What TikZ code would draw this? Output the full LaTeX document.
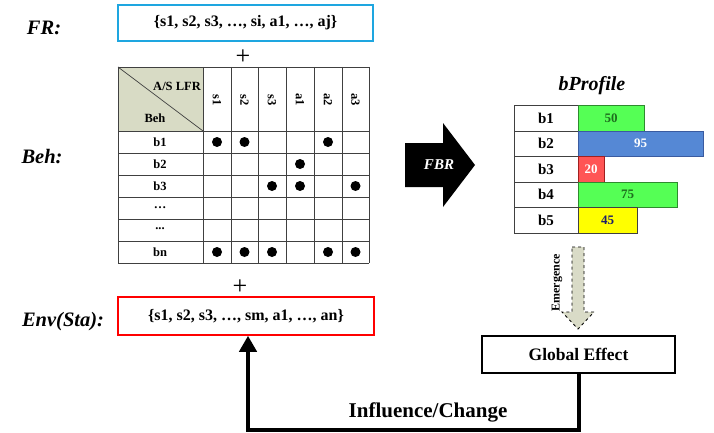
\documentclass[tikz,border=0pt]{standalone}
\usepackage{fontspec}
\setmainfont{Liberation Serif}
\usetikzlibrary{arrows.meta,calc}
\definecolor{frblue}{HTML}{1EA6E0}
\definecolor{hdrfill}{HTML}{D8DBC5}
\definecolor{bargreen}{HTML}{55FF55}
\definecolor{bargreenline}{HTML}{2E8B2E}
\definecolor{bargreentext}{HTML}{1E6E1E}
\definecolor{barblue}{HTML}{5588D5}
\definecolor{barblueline}{HTML}{3A5BA0}
\definecolor{barred}{HTML}{FF5555}
\definecolor{barredline}{HTML}{A02020}
\definecolor{baryellow}{HTML}{FFFF00}
\definecolor{navytext}{HTML}{1C1C6C}
\definecolor{gridgray}{HTML}{404040}
\definecolor{emfill}{HTML}{D9DBC7}
\begin{document}
\begin{tikzpicture}[x=1pt,y=-1pt,
  setbox/.style={draw,line width=1.5pt,minimum width=255pt,minimum height=36pt,inner sep=0pt,
    font=\fontsize{16}{18}\selectfont\bfseries},
  sidelabel/.style={font=\fontsize{20.5}{22}\selectfont\bfseries\itshape,inner sep=0pt},
  plussign/.style={font=\fontsize{26}{26}\selectfont,inner sep=0pt},
  cell/.style={font=\fontsize{12.5}{13}\selectfont\bfseries,inner sep=0pt},
  dot/.style={circle,fill=black,minimum size=10pt,inner sep=0pt},
  bar/.style={draw,line width=0.8pt},
  barval/.style={font=\fontsize{13}{14}\selectfont\bfseries,inner sep=0pt}]
\useasboundingbox (0,0) rectangle (714,433);

% ---- functional requirements ----
\node[sidelabel] (frlbl) at (44,28) {FR:};
\node[setbox,draw=frblue] (fr) at (245.5,23) {\{s1, s2, s3, …, si, a1, …, aj\}};
\node[plussign] (plus1) at (243,57) {+};

% ---- behaviour matrix ----
\node[sidelabel] (behlbl) at (42,157) {Beh:};
\fill[hdrfill] (118,67) rectangle (203,131);
\draw[gridgray,line width=0.7pt] (118,67) -- (203,131);
\foreach \x in {118,203,231,258,286,314,342,369}
  \draw[gridgray,line width=0.9pt] (\x,67) -- (\x,263);
\foreach \y in {67,131,153,175,197,219,241,263}
  \draw[gridgray,line width=0.9pt] (118,\y) -- (369,\y);
\node[cell,anchor=east] (hdrtop) at (201,86) {A/S LFR};
\node[cell] (hdrbot) at (155,118) {Beh};
\foreach \c/\x in {s1/217,s2/244.5,s3/272,a1/300,a2/328,a3/355.5}
  \node[cell,rotate=-90] (col-\c) at (\x,100) {\c};
\node[cell] (row1) at (160,142) {b1};
\node[cell] (row2) at (160,164) {b2};
\node[cell] (row3) at (160,186) {b3};
\node[cell] (row4) at (160,208) {…};
\node[cell] (row5) at (160,229) {...};
\node[cell] (row6) at (160,252) {bn};
\foreach \r/\x/\y in {1/217/142,2/244.5/142,3/328/142,
                      4/300/164,
                      5/272/186,6/300/186,7/355.5/186,
                      8/217/252,9/244.5/252,10/272/252,11/328/252,12/355.5/252}
  \node[dot] (dot\r) at (\x,\y) {};

% ---- environment state ----
\node[plussign] (plus2) at (240,287) {+};
\node[sidelabel] (envlbl) at (63,322) {Env(Sta):};
\node[setbox,draw=red,minimum width=256pt,minimum height=38pt] (env) at (246,316) {\{s1, s2, s3, …, sm, a1, …, an\}};

% ---- FBR arrow ----
\fill (405,143) -- (443,143) -- (443,123) -- (475,165) -- (443,207) -- (443,187) -- (405,187) -- cycle;
\node[font=\fontsize{15}{16}\selectfont\bfseries\itshape,text=white] (fbr) at (439,165) {FBR};

% ---- behaviour profile ----
\node[font=\fontsize{20}{22}\selectfont\bfseries\itshape] (bptitle) at (592,86) {bProfile};
\foreach \r/\top/\bot in {1/105/131,2/131/156,3/156/182,4/182/207,5/207/233}
  \node[draw=gridgray,line width=0.9pt,minimum width=64pt,minimum height=\bot pt-\top pt,inner sep=0pt,
        font=\fontsize{15}{16}\selectfont\bfseries] (bp\r) at (546,{(\top+\bot)/2}) {b\r};
\draw[bar,fill=bargreen,draw=bargreenline] (578,105) rectangle (644,131);
\draw[bar,fill=barblue,draw=barblueline] (578,131) rectangle (703,156);
\draw[bar,fill=barred,draw=barredline] (578,156) rectangle (604,182);
\draw[bar,fill=bargreen,draw=bargreenline] (578,182) rectangle (677,207);
\draw[bar,fill=baryellow,draw=gridgray] (578,207) rectangle (637,233);
\node[barval,text=bargreentext] (v1) at (611,118) {50};
\node[barval,text=white] (v2) at (640.5,143.5) {95};
\node[barval,text=white] (v3) at (591,169) {20};
\node[barval,text=bargreentext] (v4) at (627.5,194.5) {75};
\node[barval,text=navytext] (v5) at (607.5,220) {45};

% ---- emergence ----
\draw[fill=emfill,dashed,line width=0.8pt] (572,247) -- (584,247) -- (584,312) -- (594,312) -- (578,329)
  -- (562,312) -- (572,312) -- cycle;
\node[cell,font=\fontsize{12}{13}\selectfont\bfseries,rotate=90] (emlbl) at (557,283) {Emergence};

% ---- global effect and feedback ----
\node[draw,line width=1.2pt,minimum width=193pt,minimum height=37pt,inner sep=0pt,
      font=\fontsize{17.5}{19}\selectfont\bfseries] (ge) at (578.5,354.5) {Global Effect};
\draw[line width=4pt,-{Triangle[length=16pt,width=17pt]}]
  (ge.south) -- (ge.south |- 0,430) -| ($(env.south)+(2,0)$);
\node[font=\fontsize{21}{23}\selectfont\bfseries] (inflbl) at (428,412) {Influence/Change};
\end{tikzpicture}
\end{document}
